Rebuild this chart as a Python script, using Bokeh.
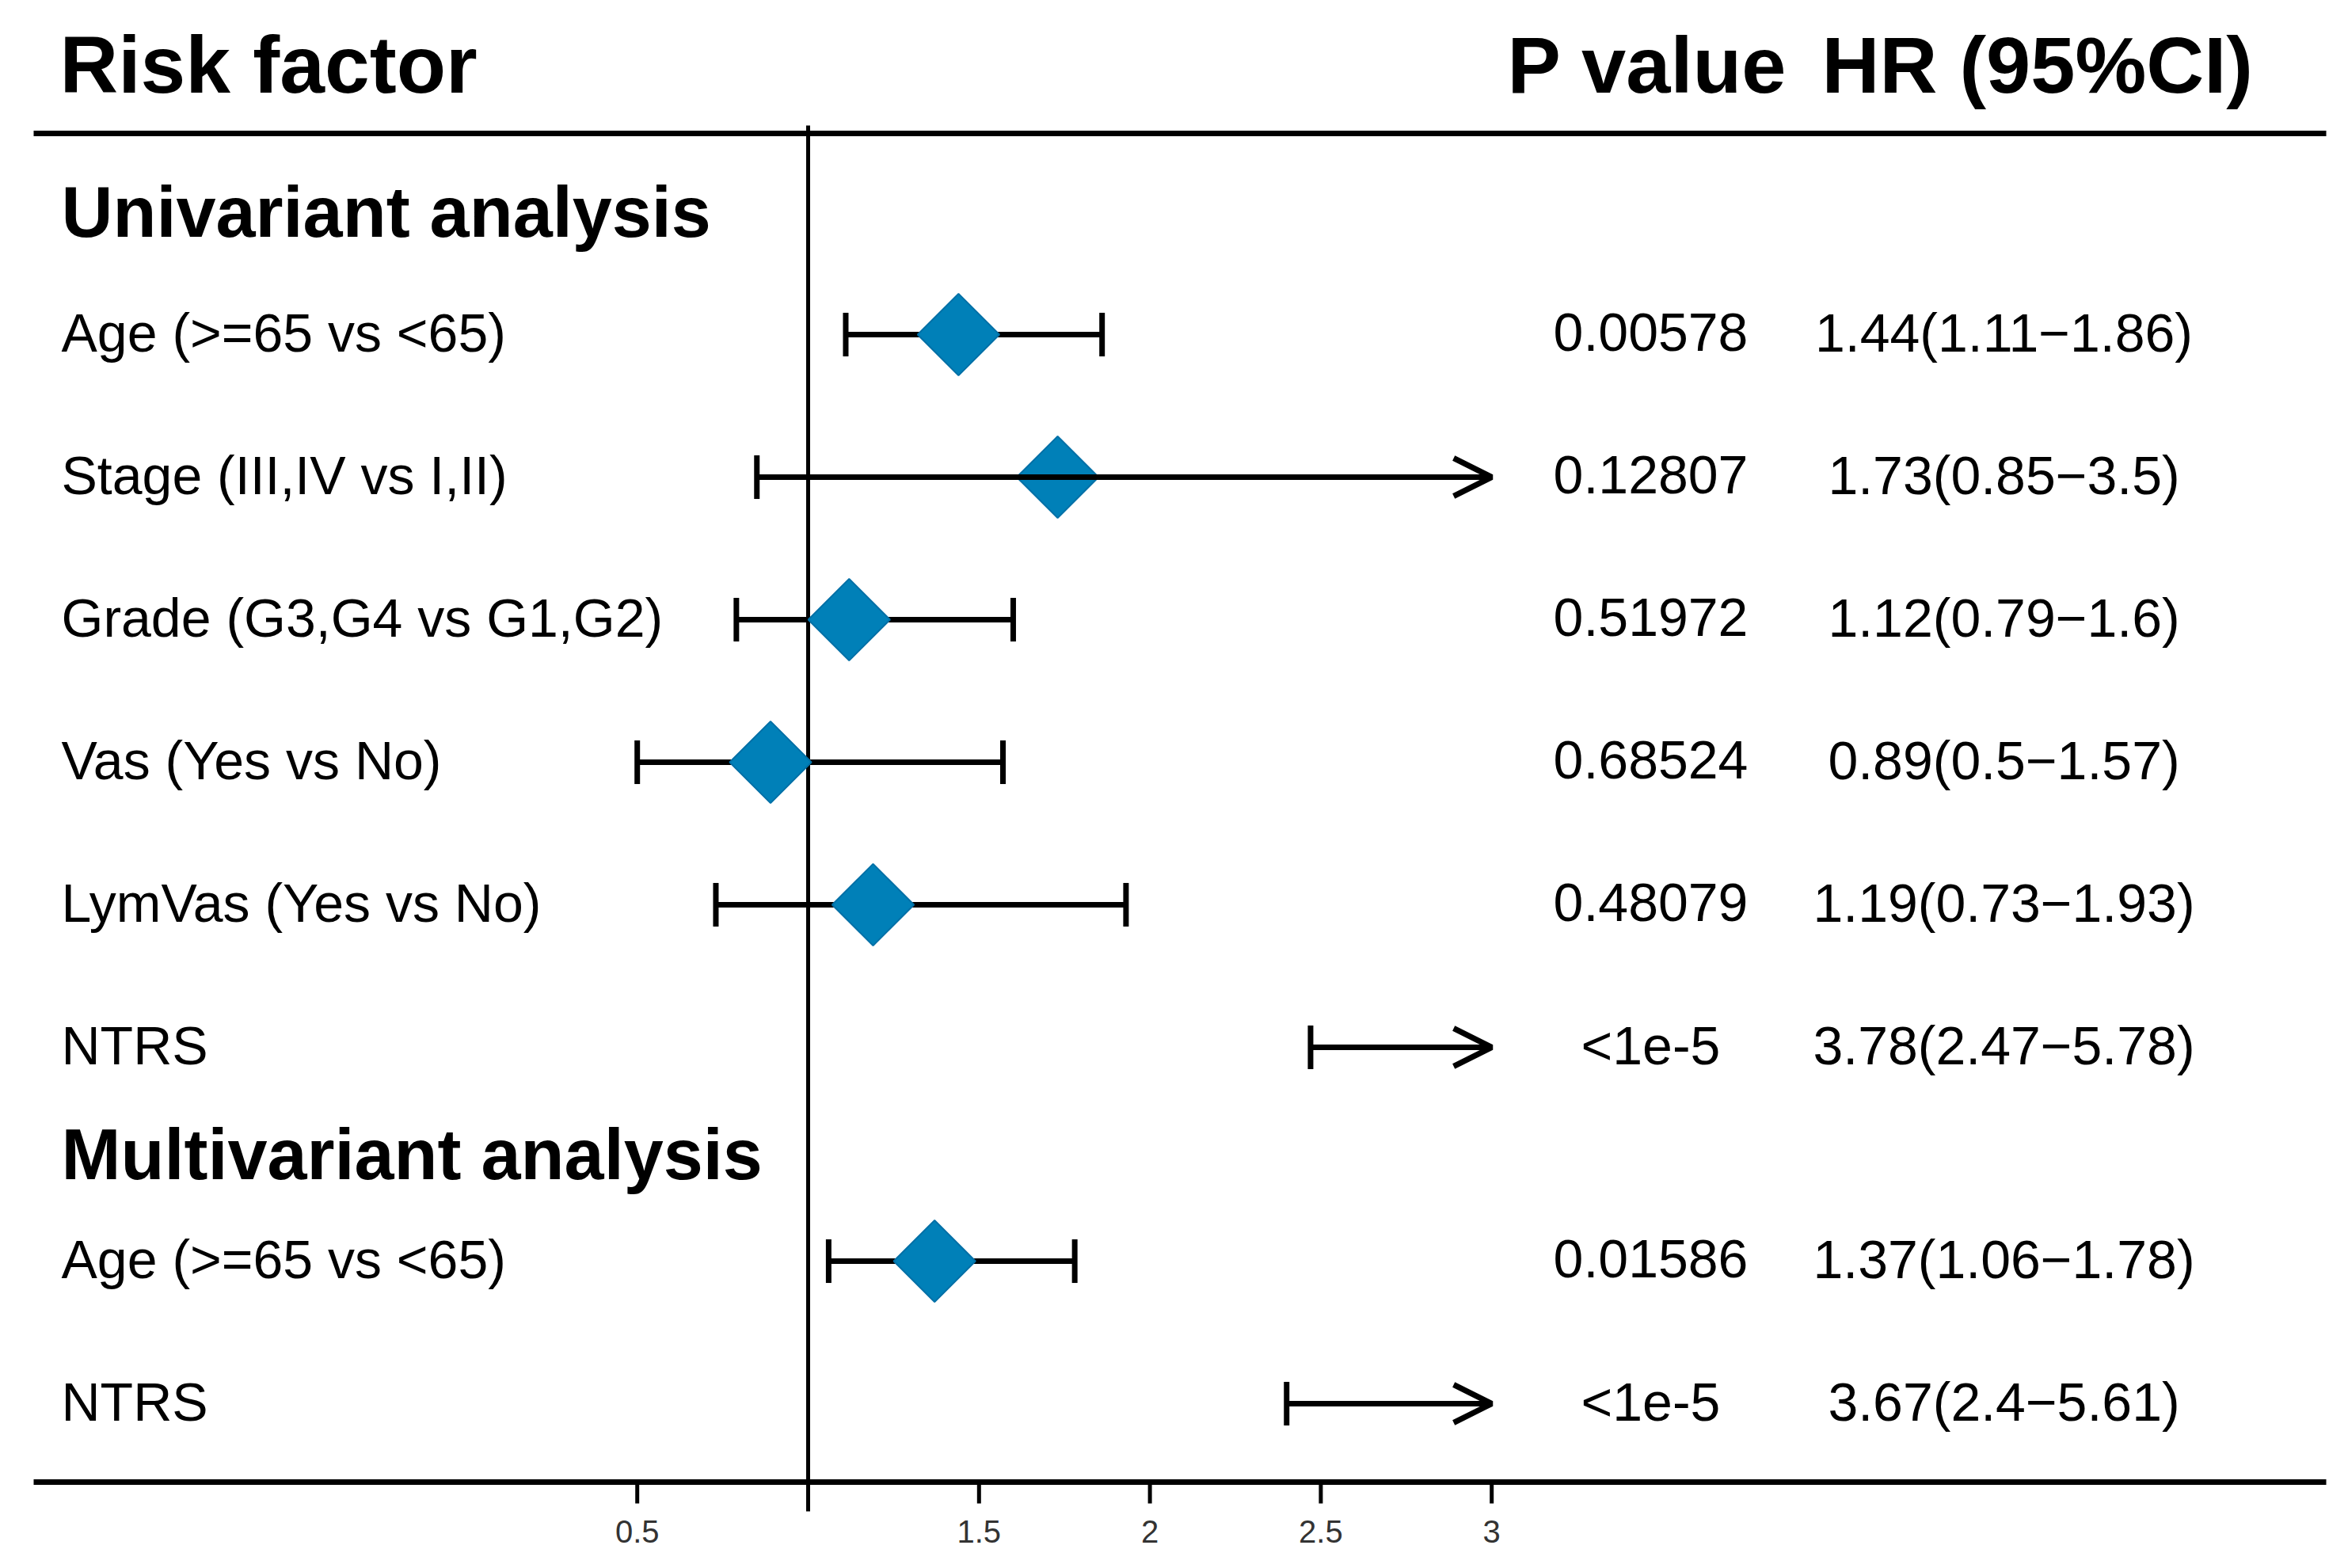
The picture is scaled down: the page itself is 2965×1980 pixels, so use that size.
import math
from bokeh.plotting import figure
from bokeh.models import Range1d, ColumnDataSource, Arrow, OpenHead
from bokeh.core.properties import value
from bokeh.embed import file_html
from bokeh.resources import INLINE

# ---------------- data ----------------
labels = ["Age (>=65 vs <65)", "Stage (III,IV vs I,II)", "Grade (G3,G4 vs G1,G2)",
          "Vas (Yes vs No)", "LymVas (Yes vs No)", "NTRS",
          "Age (>=65 vs <65)", "NTRS"]
hr = [1.44, 1.73, 1.12, 0.89, 1.19, 3.78, 1.37, 3.67]
lo = [1.11, 0.85, 0.79, 0.5, 0.73, 2.47, 1.06, 2.4]
hi = [1.86, 3.5, 1.6, 1.57, 1.93, 5.78, 1.78, 5.61]
pvals = ["0.00578", "0.12807", "0.51972", "0.68524", "0.48079", "<1e-5",
         "0.01586", "<1e-5"]
section_titles = ["Univariant analysis", "Multivariant analysis"]
tick_values = [0.5, 1, 1.5, 2, 2.5, 3]
tick_labels = ["0.5", "", "1.5", "2", "2.5", "3"]
x_clip = 3

# ---------------- layout helpers ----------------
W, H = 2949, 1964
M = 0
PX_PER_UNIT = 431.6
X1_SCREEN = 1020          # screen px of HR = 1
ROW_PX = 180
ROW0_SCREEN = 422         # screen px of first row
BASE_FIX = 0.38           # em correction for svg alphabetic baseline


def sx(px):
    return 1 + (px - X1_SCREEN) / PX_PER_UNIT


def sy(py):
    return (py - ROW0_SCREEN) / ROW_PX


def base(py, font):
    return sy(py - BASE_FIX * font)


rows = [0, 1, 2, 3, 4, 5, 6.5, 7.5]

FONT = value("Liberation Sans")
BLUE = "#0080b8"

p = figure(width=W, height=H, output_backend="svg", toolbar_location=None,
           x_range=Range1d(sx(M), sx(M + W)),
           y_range=Range1d(sy(M + H), sy(M)),
           x_axis_location=None, y_axis_location=None,
           min_border=0, outline_line_color=None, background_fill_color="white")
p.xgrid.visible = False
p.ygrid.visible = False

# horizontal rules
p.segment(x0=[sx(42), sx(42)], x1=[sx(2937), sx(2937)],
          y0=[sy(168), sy(1871)], y1=[sy(168), sy(1871)],
          line_color="black", line_width=7)
# reference line at HR = 1
p.segment(x0=[1], x1=[1], y0=[sy(158)], y1=[sy(1908)], line_color="black", line_width=5)
# ticks
p.segment(x0=tick_values, x1=tick_values,
          y0=[sy(1871)] * len(tick_values), y1=[sy(1898)] * len(tick_values),
          line_color="black", line_width=5)
p.text(x=tick_values, y=[base(1949, 40)] * len(tick_values), text=tick_labels,
       text_font=FONT, text_font_size="40px", text_align="center",
       text_baseline="alphabetic", text_color="#333333")

# confidence intervals
seg_x0, seg_x1, seg_y = [], [], []
arr_x0, arr_x1, arr_y = [], [], []
cap_x, cap_y = [], []
dia_x, dia_y = [], []
for r, h, l, u in zip(rows, hr, lo, hi):
    if u > x_clip:
        arr_x0.append(l); arr_x1.append(x_clip); arr_y.append(r)
    else:
        seg_x0.append(l); seg_x1.append(u); seg_y.append(r)
        cap_x.append(u); cap_y.append(r)
    cap_x.append(l); cap_y.append(r)
    if h <= x_clip:
        dia_x.append(h); dia_y.append(r)

CAP = 0.153
LW = 7
p.segment(x0=seg_x0, x1=seg_x1, y0=seg_y, y1=seg_y, line_color="black", line_width=LW)
p.segment(x0=cap_x, x1=cap_x, y0=[y - CAP for y in cap_y], y1=[y + CAP for y in cap_y],
          line_color="black", line_width=LW)
arr_src = ColumnDataSource(dict(x0=arr_x0, x1=arr_x1, y=arr_y))
p.add_layout(Arrow(end=OpenHead(size=48, line_width=LW, line_color="black"),
                   x_start="x0", y_start="y", x_end="x1", y_end="y",
                   source=arr_src, line_width=LW, line_color="black"))
p.scatter(x=dia_x, y=dia_y, marker="square", size=73, angle=math.pi / 4,
          fill_color=BLUE, line_color="#006fa6", line_width=2)

# header texts
p.text(x=[sx(75)], y=[base(120, 102)], text=["Risk factor"], text_font=FONT,
       text_font_size="102px", text_font_style="bold", text_baseline="alphabetic",
       text_align="left", text_color="black")
p.text(x=[sx(1903), sx(2300)], y=[base(120, 101)] * 2, text=["P value", "HR (95%CI)"],
       text_font=FONT, text_font_size="101px", text_font_style="bold",
       text_baseline="alphabetic", text_align="left", text_color="black")
p.text(x=[sx(77)] * 2, y=[base(302, 90), base(1492, 90)], text=section_titles,
       text_font=FONT, text_font_size="90px", text_font_style="bold",
       text_baseline="alphabetic", text_align="left", text_color="black")

# row texts
row_base = [r + (23 - BASE_FIX * 68) / ROW_PX for r in rows]
hr_text = [f"{h}({l}\u2212{u})" for h, l, u in zip(hr, lo, hi)]
p.text(x=[sx(77)] * len(rows), y=row_base, text=labels, text_font=FONT,
       text_font_size="68px", text_baseline="alphabetic", text_align="left",
       text_color="black")
p.text(x=[sx(2084)] * len(rows), y=row_base, text=pvals, text_font=FONT,
       text_font_size="68px", text_baseline="alphabetic", text_align="center",
       text_color="black")
p.text(x=[sx(2530)] * len(rows), y=row_base, text=hr_text, text_font=FONT,
       text_font_size="68px", text_baseline="alphabetic", text_align="center",
       text_color="black")

open("out.html", "w").write(file_html(p, INLINE))
